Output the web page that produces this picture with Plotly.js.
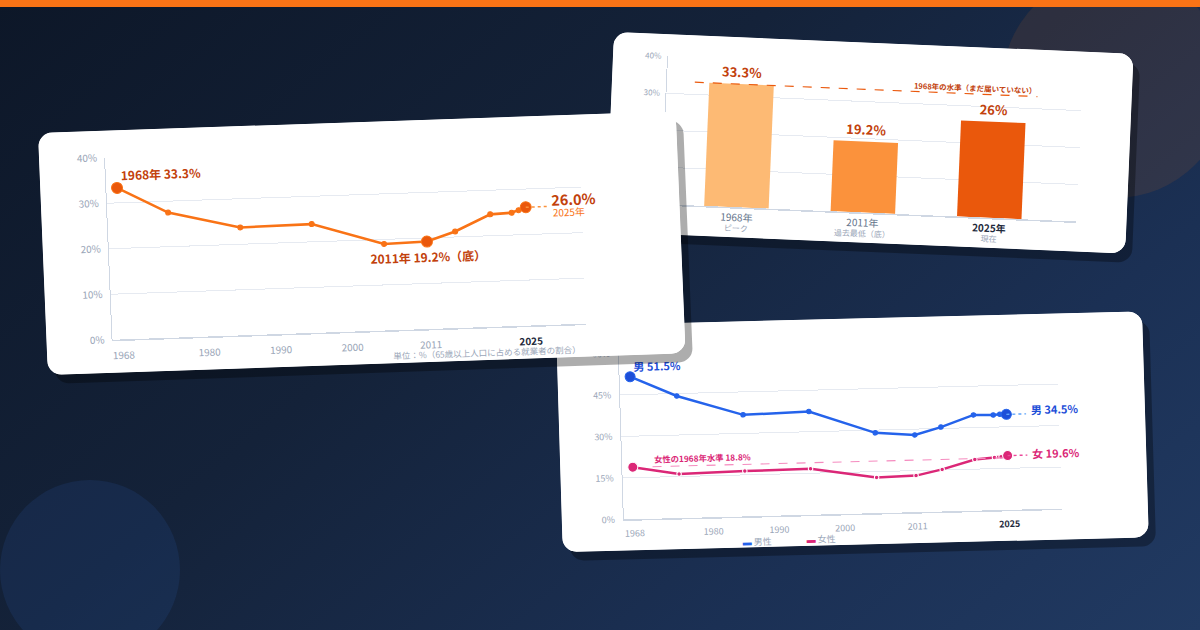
<!DOCTYPE html>
<html><head><meta charset="utf-8">
<script src="https://cdn.plot.ly/plotly-3.0.1.min.js"></script>
<style>
html,body{margin:0;padding:0;}
body{width:1200px;height:630px;overflow:hidden;position:relative;
 background:linear-gradient(140deg,#0d1728 0%,#142239 40%,#1b3054 75%,#213a62 100%);
 font-family:"Noto Sans CJK JP","Noto Sans",sans-serif;}
.topbar{position:absolute;left:0;top:0;width:1200px;height:7px;background:#f97316;z-index:5;}
.circle{position:absolute;border-radius:50%;}
.card{position:absolute;background:#fff;border-radius:14px;overflow:hidden;transform-origin:0 0;box-shadow:7px 9px 0 rgba(0,0,0,0.32);}
</style></head>
<body>
<div class="topbar"></div>
<div class="circle" style="left:1002px;top:-28px;width:226px;height:226px;background:rgba(249,115,22,0.10);"></div>
<div class="circle" style="left:0px;top:480px;width:180px;height:180px;background:rgba(59,130,246,0.10);"></div>
<div class="card" id="card2" style="left:614px;top:32px;width:520px;height:200px;z-index:1;"></div>
<div class="card" id="card3" style="left:556px;top:326px;width:586px;height:226px;z-index:2;"></div>
<div class="card" id="card1" style="left:38px;top:133px;width:638px;height:242px;z-index:3;"></div>
<script>
// ---------- data ----------
const years = [1968, 1975, 1985, 1995, 2005, 2011, 2015, 2020, 2023, 2024, 2025];
const rate = [33.3, 27.5, 23.7, 23.9, 19.0, 19.2, 21.2, 24.7, 24.9, 25.4, 26.0];
const highlightYears = [1968, 2011, 2025];
const tickYears = [1968, 1980, 1990, 2000, 2011, 2025];
const tickLabels = ['1968', '1980', '1990', '2000', '2011', '2025'];
const yTicks1 = [0, 10, 20, 30, 40];

const barCats = ['1968年', '2011年', '2025年'];
const barSubs = ['ピーク', '過去最低（底）', '現在'];
const barVals = [33.3, 19.2, 26];
const barColors = ['#fdba74', '#fb923c', '#ea580c'];
const refLabel = '1968年の水準（まだ届いていない）';

const male = [51.5, 44.1, 36.7, 37.3, 29.0, 27.9, 30.5, 34.6, 34.4, 34.6, 34.5];
const female = [18.8, 15.9, 16.4, 16.6, 12.9, 13.2, 15.2, 18.5, 19.0, 19.2, 19.6];
const yTicks3 = [0, 15, 30, 45, 60];
const seriesNames = ['男性', '女性'];

const FONT = '"Noto Sans CJK JP","Noto Sans",sans-serif';
const TICK = '#9aa6b8';
const GRID = '#e6eaf1';
const AXL = '#cfd7e3';
const cfg = {staticPlot: true, displayModeBar: false};
const last = years.length - 1;
const tickText = tickLabels.map(t => t === '2025' ? '<span style="color:#1e293b"><b>2025</b></span>' : t);

// ---------- card 1 ----------
const W1 = 638, H1 = 242;
const isHi = years.map(y => highlightYears.includes(y));
const t1 = [
  {x: years, y: rate, mode: 'lines+markers', line: {color: '#f97316', width: 2.6},
   marker: {opacity: 1, size: isHi.map(h => h ? 11 : 5), color: isHi.map(h => h ? '#ea580c' : '#f97316')}, cliponaxis: false},
  {x: [years[last], years[last] + 3], y: [rate[last], rate[last]], mode: 'lines',
   line: {color: '#fb923c', width: 1.5, dash: 'dot'}, cliponaxis: false}
];
const l1 = {
  width: W1, height: H1, margin: {l: 66, r: W1 - 540, t: 27, b: H1 - 209},
  paper_bgcolor: '#fff', plot_bgcolor: '#fff', showlegend: false,
  font: {family: FONT, color: TICK, size: 10},
  xaxis: {range: [1966.5, 2032.8], tickvals: tickYears, ticktext: tickText, showgrid: false,
    showline: true, linecolor: AXL, linewidth: 1.5, zeroline: false, ticks: '', ticklabelstandoff: 6,
    tickfont: {size: 10, color: TICK}},
  yaxis: {range: [0, 40], tickvals: yTicks1, ticktext: yTicks1.map(v => v + '%'), gridcolor: GRID,
    showline: true, linecolor: AXL, zeroline: false, ticks: '', ticklabelstandoff: 5,
    tickfont: {size: 10, color: TICK}},
  annotations: [
    {x: years[0], y: rate[0], xanchor: 'left', yanchor: 'middle', xshift: 2, yshift: 13, showarrow: false,
     text: '<b>' + years[0] + '年 ' + rate[0].toFixed(1) + '%</b>', font: {size: 12, color: '#c2410c'}},
    {x: years[5], y: rate[5], xanchor: 'center', yanchor: 'middle', xshift: 1, yshift: -15, showarrow: false,
     text: '<b>' + years[5] + '年 ' + rate[5].toFixed(1) + '%（底）</b>', font: {size: 12, color: '#c2410c'}},
    {x: years[last], y: rate[last], xanchor: 'left', yanchor: 'middle', xshift: 24, yshift: 7, showarrow: false,
     text: '<b>' + rate[last].toFixed(1) + '%</b>', font: {size: 14.5, color: '#c2410c'}},
    {x: years[last], y: rate[last], xanchor: 'left', yanchor: 'middle', xshift: 25, yshift: -6, showarrow: false,
     text: years[last] + '年', font: {size: 10, color: '#f97316'}},
    {xref: 'paper', yref: 'paper', x: 0.99, y: -0.14, xanchor: 'right', yanchor: 'middle', showarrow: false,
     text: '単位：%（65歳以上人口に占める就業者の割合）', font: {size: 8.5, color: TICK}}
  ]
};

// ---------- card 2 ----------
const W2 = 520, H2 = 200;
const xi = barVals.map((v, i) => i);
const t2 = [
  {type: 'bar', x: xi, y: barVals, width: 0.51, marker: {color: barColors},
   text: barVals.map(v => '<b>' + v + '%</b>'), textposition: 'outside', cliponaxis: false,
   textfont: {size: 13, color: '#c2410c', family: FONT}},
  {x: [-0.37, 2.34], y: [barVals[0], barVals[0]], mode: 'lines',
   line: {color: '#ea580c', width: 1.2, dash: 'dash'}, cliponaxis: false}
];
const ann2 = [{x: 2.34, y: barVals[0], xanchor: 'right', yanchor: 'bottom', yshift: -1, showarrow: false,
  text: '<b>' + refLabel + '</b>', font: {size: 7.5, color: '#c2410c'}}];
barCats.forEach((c, i) => {
  const cur = i === barCats.length - 1;
  ann2.push({x: i, y: 0, xanchor: 'center', yanchor: 'top', yshift: 0, showarrow: false,
    text: cur ? '<b>' + c + '</b>' : c, font: {size: 10, color: cur ? '#1e293b' : '#64748b'}});
  ann2.push({x: i, y: 0, xanchor: 'center', yanchor: 'top', yshift: -13, showarrow: false,
    text: barSubs[i], font: {size: 8, color: TICK}});
});
const l2 = {
  width: W2, height: H2, margin: {l: 55, r: 50, t: 22, b: 30},
  paper_bgcolor: '#fff', plot_bgcolor: '#fff', showlegend: false,
  font: {family: FONT, color: TICK, size: 8},
  xaxis: {range: [-0.59, 2.69], showticklabels: false, showgrid: false, showline: true,
    linecolor: AXL, linewidth: 1.5, zeroline: false, ticks: ''},
  yaxis: {range: [0, 40], tickvals: yTicks1, ticktext: yTicks1.map(v => v + '%'), gridcolor: GRID,
    showline: true, linecolor: AXL, zeroline: false, ticks: '', ticklabelstandoff: 4,
    tickfont: {size: 8, color: TICK}},
  annotations: ann2
};

// ---------- card 3 ----------
const W3 = 586, H3 = 226;
const isEnd = years.map((y, i) => i === 0 || i === last);
const t3 = [
  {x: years, y: male, mode: 'lines+markers', line: {color: '#2563eb', width: 2.5},
   marker: {opacity: 1, size: isEnd.map(h => h ? 10 : 4.5), color: isEnd.map(h => h ? '#1d4ed8' : '#2563eb')}, cliponaxis: false},
  {x: years, y: female, mode: 'lines+markers', line: {color: '#db2777', width: 2.5},
   marker: {opacity: 1, size: isEnd.map(h => h ? 10 : 4.5), color: '#db2777'}, cliponaxis: false},
  {x: [1971, years[last]], y: [female[0], female[0]], mode: 'lines',
   line: {color: '#f58bbf', width: 1.1, dash: 'dash'}},
  {x: [years[last], years[last] + 3], y: [male[last], male[last]], mode: 'lines',
   line: {color: '#60a5fa', width: 1.4, dash: 'dot'}, cliponaxis: false},
  {x: [years[last], years[last] + 3], y: [female[last], female[last]], mode: 'lines',
   line: {color: '#ec4899', width: 1.4, dash: 'dot'}, cliponaxis: false}
];
const l3 = {
  width: W3, height: H3, margin: {l: 62, r: 86, t: 29, b: 31},
  paper_bgcolor: '#fff', plot_bgcolor: '#fff', showlegend: false,
  font: {family: FONT, color: TICK, size: 9},
  xaxis: {range: [1966.4, 2033.0], tickvals: tickYears, ticktext: tickText, showgrid: false,
    showline: true, linecolor: AXL, linewidth: 1.5, zeroline: false, ticks: '', ticklabelstandoff: 5,
    tickfont: {size: 9, color: TICK}},
  yaxis: {range: [0, 60], tickvals: yTicks3, ticktext: yTicks3.map(v => v + '%'), gridcolor: GRID,
    showline: true, linecolor: AXL, zeroline: false, ticks: '', ticklabelstandoff: 6,
    tickfont: {size: 9, color: TICK}},
  annotations: [
    {x: years[0], y: male[0], xanchor: 'left', yanchor: 'middle', xshift: 1, yshift: 11, showarrow: false,
     text: '<b>男 ' + male[0] + '%</b>', font: {size: 11, color: '#1d4ed8'}},
    {x: years[last], y: male[last], xanchor: 'left', yanchor: 'middle', xshift: 23, yshift: 5, showarrow: false,
     text: '<b>男 ' + male[last] + '%</b>', font: {size: 11, color: '#1d4ed8'}},
    {x: years[last], y: female[last], xanchor: 'left', yanchor: 'middle', xshift: 23, yshift: 2, showarrow: false,
     text: '<b>女 ' + female[last] + '%</b>', font: {size: 11, color: '#db2777'}},
    {x: 1971, y: female[0], xanchor: 'left', yanchor: 'bottom', yshift: 0, showarrow: false,
     text: '<b>女性の' + years[0] + '年水準 ' + female[0] + '%</b>', font: {size: 8.3, color: '#db2777'}},
    {xref: 'paper', yref: 'paper', x: 0.265, y: -0.155, xanchor: 'left', yanchor: 'middle', showarrow: false,
     text: '<span style="color:#2563eb">▬</span> ' + seriesNames[0], font: {size: 9, color: TICK}},
    {xref: 'paper', yref: 'paper', x: 0.41, y: -0.145, xanchor: 'left', yanchor: 'middle', showarrow: false,
     text: '<span style="color:#db2777">▬</span> ' + seriesNames[1], font: {size: 9, color: TICK}}
  ]
};

Promise.all([
  Plotly.newPlot('card1', t1, l1, cfg),
  Plotly.newPlot('card2', t2, l2, cfg),
  Plotly.newPlot('card3', t3, l3, cfg)
]).then(() => {
  document.getElementById('card1').style.transform = 'matrix(0.9995,-0.034,0.041,1,0,0)';
  document.getElementById('card2').style.transform = 'rotate(2.4deg)';
  document.getElementById('card3').style.transform = 'matrix(1,-0.025,0.03,1,0,0)';
});
</script>
</body></html>
